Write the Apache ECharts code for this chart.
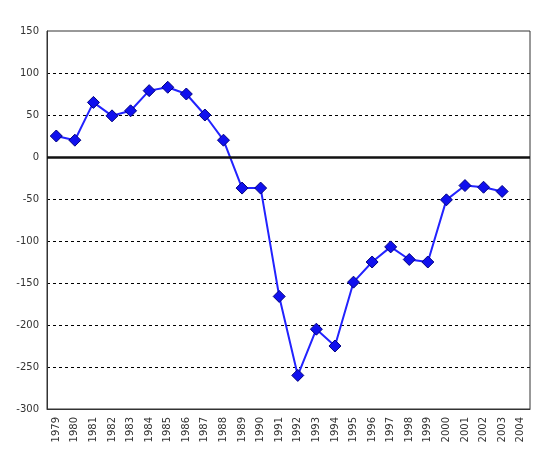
<!DOCTYPE html>
<html><head><meta charset="utf-8">
<script src="https://cdn.jsdelivr.net/npm/echarts@6/dist/echarts.min.js"></script>
<style>html,body{margin:0;padding:0;background:#fff}#c{width:546px;height:458px}</style>
</head><body><div id="c"></div>
<script>
const years = ['1979','1980','1981','1982','1983','1984','1985','1986','1987','1988','1989','1990','1991','1992','1993','1994','1995','1996','1997','1998','1999','2000','2001','2002','2003','2004'];
const values = [25,20,65,49,55,79,83,75,50,20,-37,-37,-166,-260,-205,-225,-149,-125,-107,-122,-125,-51,-34,-36,-41,null];
const yTicks = {min:-300,max:150,interval:50};

const chart = echarts.init(document.getElementById('c'));
chart.setOption({
  animation:false,
  grid:{left:47,right:16,top:31,bottom:49,show:true,borderColor:'#333',borderWidth:1,backgroundColor:'transparent'},
  xAxis:{type:'category',data:years,boundaryGap:true,
    axisLine:{onZero:false,lineStyle:{color:'#333',width:1}},
    axisTick:{show:false},
    axisLabel:{rotate:90,interval:0,color:'#333',fontFamily:'DejaVu Sans',fontSize:10,margin:8},
    splitLine:{show:false}},
  yAxis:{type:'value',min:yTicks.min,max:yTicks.max,interval:yTicks.interval,
    axisLine:{show:true,lineStyle:{color:'#333'}},
    axisTick:{show:false},
    axisLabel:{color:'#333',fontFamily:'DejaVu Sans',fontSize:10,margin:8},
    splitLine:{show:true,showMinLine:false,showMaxLine:false,lineStyle:{color:'#000',type:[3,3],width:1}}},
  series:[{type:'line',data:values,symbol:'diamond',symbolSize:12,
    lineStyle:{color:'#2222ff',width:2},
    itemStyle:{color:'#1010ee',borderColor:'#000080',borderWidth:1},
    markLine:{silent:true,symbol:'none',label:{show:false},
      lineStyle:{color:'#111',type:'solid',width:2.5},
      data:[{yAxis:0}]}
  }]
});
</script></body></html>
